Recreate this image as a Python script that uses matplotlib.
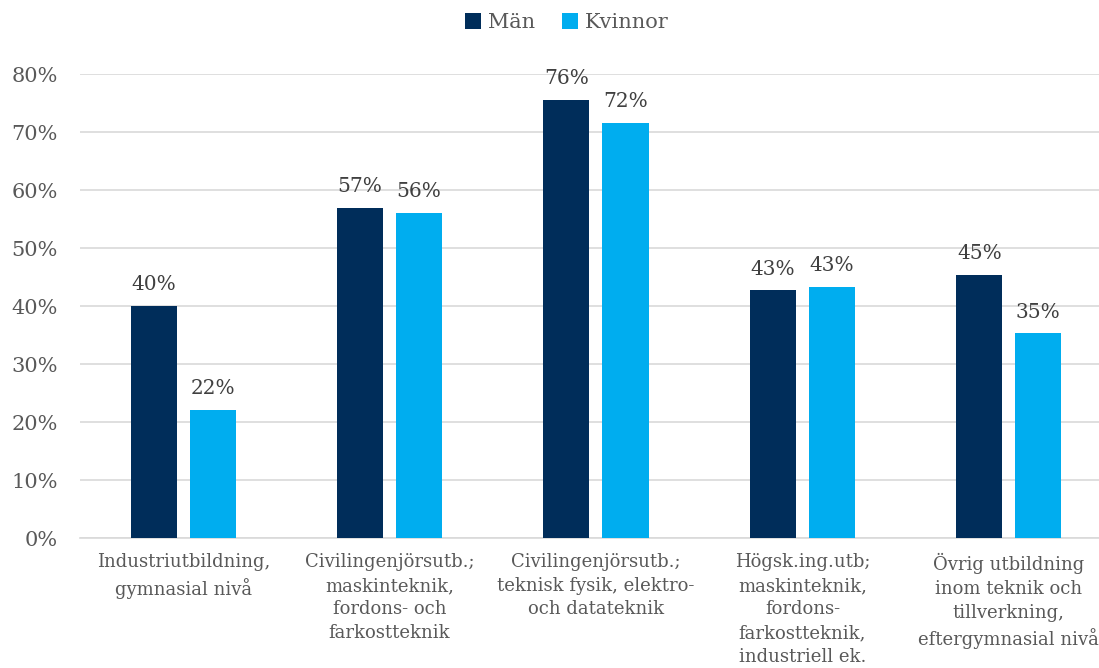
import numpy as np
import matplotlib.pyplot as plt

# Andel per utbildningsinriktning, män och kvinnor
kategorier = [
    'Industriutbildning,\ngymnasial nivå',
    'Civilingenjörsutb.;\nmaskinteknik,\nfordons- och\nfarkostteknik',
    'Civilingenjörsutb.;\nteknisk fysik, elektro-\noch datateknik',
    'Högsk.ing.utb;\nmaskinteknik,\nfordons-\nfarkostteknik,\nindustriell ek.',
    'Övrig utbildning\ninom teknik och\ntillverkning,\neftergymnasial nivå',
]
man = [40.0, 56.9, 75.6, 42.7, 45.4]
kvinnor = [22.1, 56.1, 71.6, 43.3, 35.3]

farg_man = '#002d5a'
farg_kv = '#00adef'
textfarg = '#595959'

plt.rcParams['font.family'] = ['DejaVu Serif']

fig = plt.figure(figsize=(10.99, 6.68), dpi=100)
ax = fig.add_axes([0.0728, 0.1946, 0.939, 0.6946])

x = np.arange(len(kategorier))
b = 0.223
off = 0.143
s1 = ax.bar(x - off, man, b, color=farg_man, label='Män', zorder=3)
s2 = ax.bar(x + off, kvinnor, b, color=farg_kv, label='Kvinnor', zorder=3)

for bars, vals in [(s1, man), (s2, kvinnor)]:
    for r, v in zip(bars, vals):
        ax.text(r.get_x() + r.get_width() / 2, v + 2.0, f'{round(v):.0f}%',
                ha='center', va='bottom', fontsize=14.5, color='#404040')

ax.set_xlim(-0.5, 4.5)
ax.set_ylim(0, 80)
ax.set_yticks(range(0, 81, 10))
ax.set_yticklabels([f'{t}%' for t in range(0, 81, 10)])
ax.set_xticks(x)
ax.set_xticklabels(kategorier, linespacing=1.4)
ax.tick_params(axis='y', length=0, pad=16, labelsize=15, labelcolor=textfarg)
ax.tick_params(axis='x', length=0, pad=11, labelsize=13, labelcolor=textfarg)
ax.grid(axis='y', color='#d9d9d9', linewidth=1.2, zorder=0)
for sp in ['top', 'right', 'left']:
    ax.spines[sp].set_visible(False)
ax.spines['bottom'].set_color('#d9d9d9')
ax.spines['bottom'].set_linewidth(1.2)

fig.legend(handles=[s1, s2], loc='center', bbox_to_anchor=(0.516, 0.966), ncol=2,
           frameon=False, fontsize=15, labelcolor=textfarg, handlelength=0.75,
           handleheight=0.75, handletextpad=0.35, columnspacing=1.3)

fig.savefig('out.png', dpi=100)
